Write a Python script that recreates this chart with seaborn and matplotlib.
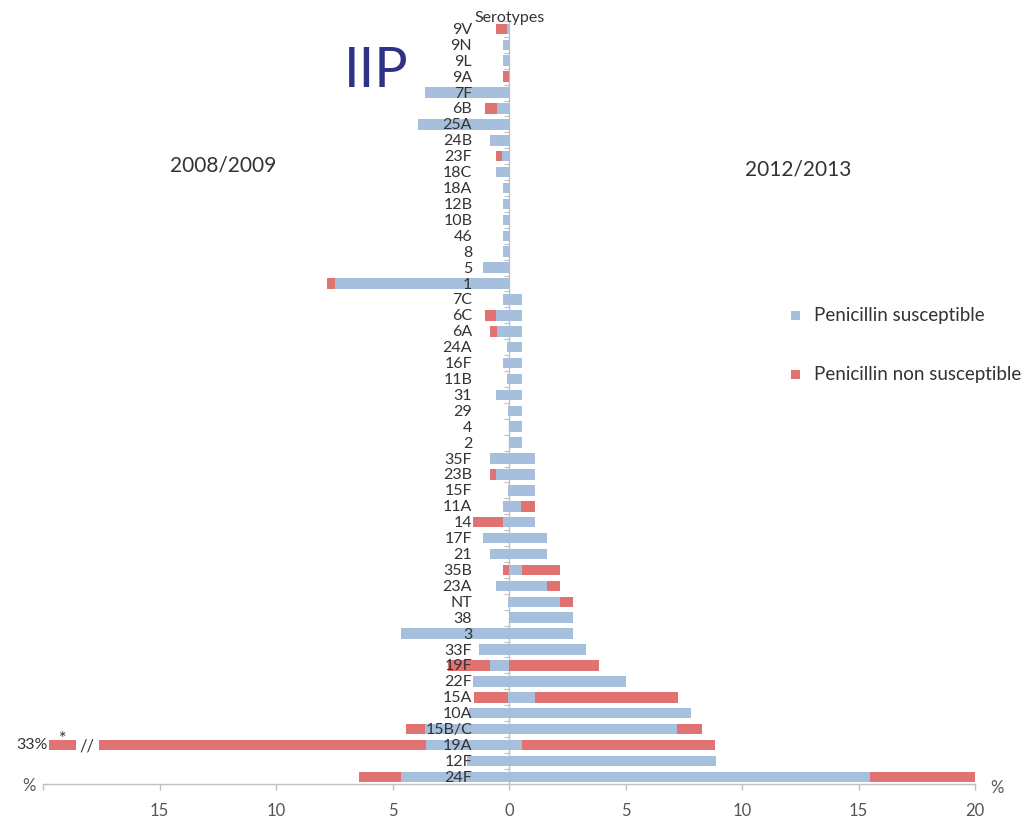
import matplotlib
matplotlib.use("Agg")
import matplotlib.pyplot as plt
from matplotlib.patches import Rectangle
import numpy as np
import pandas as pd
import seaborn as sns

# Serotypes, top to bottom
serotypes = ["9V", "9N", "9L", "9A", "7F", "6B", "25A", "24B", "23F", "18C", "18A",
             "12B", "10B", "46", "8", "5", "1", "7C", "6C", "6A", "24A", "16F", "11B",
             "31", "29", "4", "2", "35F", "23B", "15F", "11A", "14", "17F", "21", "35B",
             "23A", "NT", "38", "3", "33F", "19F", "22F", "15A", "10A", "15B/C", "19A",
             "12F", "24F"]

# 2008/2009 (% of isolates)
susc_0809 = [0.1, 0.25, 0.25, 0.0, 3.6, 0.5, 3.9, 0.8, 0.3, 0.55, 0.25,
             0.25, 0.25, 0.25, 0.25, 1.1, 7.45, 0.25, 0.55, 0.5, 0.1, 0.25, 0.1,
             0.55, 0.05, 0.0, 0.0, 0.8, 0.55, 0.05, 0.25, 0.25, 1.1, 0.8, 0.0,
             0.55, 0.05, 0.0, 4.65, 1.3, 0.8, 1.55, 0.05, 1.7, 3.6, 3.55,
             1.8, 4.65]
nonsusc_0809 = [0.45, 0.0, 0.0, 0.25, 0.0, 0.55, 0.0, 0.0, 0.25, 0.0, 0.0,
                0.0, 0.0, 0.0, 0.0, 0.0, 0.35, 0.0, 0.5, 0.3, 0.0, 0.0, 0.0,
                0.0, 0.0, 0.0, 0.0, 0.0, 0.25, 0.0, 0.0, 1.3, 0.0, 0.0, 0.25,
                0.0, 0.0, 0.0, 0.0, 0.0, 1.8, 0.0, 1.45, 0.0, 0.8, 29.45,
                0.0, 1.8]

# 2012/2013 (% of isolates)
susc_1213 = [0.0] * 17 + [0.55, 0.55, 0.55, 0.55, 0.55, 0.55,
                          0.55, 0.55, 0.55, 0.55, 1.1, 1.1, 1.1, 0.5, 1.1, 1.65, 1.65, 0.55,
                          1.65, 2.2, 2.75, 2.75, 3.3, 0.0, 5.0, 1.1, 7.8, 7.2, 0.55,
                          8.9, 15.5]
nonsusc_1213 = [0.0] * 17 + [0.0, 0.0, 0.0, 0.0, 0.0, 0.0,
                             0.0, 0.0, 0.0, 0.0, 0.0, 0.0, 0.0, 0.6, 0.0, 0.0, 0.0, 1.65,
                             0.55, 0.55, 0.0, 0.0, 0.0, 3.85, 0.0, 6.15, 0.0, 1.1, 8.3,
                             0.0, 4.5]

xtick_values = [-20, -15, -10, -5, 0, 5, 10, 15, 20]
xtick_labels = ["", "15", "10", "5", "0", "5", "10", "15", "20"]

BLUE = "#a6bfdc"
RED = "#e07272"
NAVY = "#2f3187"
TEXT = "#333333"
AXIS = "#c0c0c0"

# bars longer than this are drawn with a break
BREAK_AT = 17.6

df = pd.DataFrame({
    "serotype": serotypes,
    "s08": susc_0809, "ns08": nonsusc_0809,
    "s12": susc_1213, "ns12": nonsusc_1213,
})
df["tot08"] = df["s08"] + df["ns08"]
df["tot12"] = df["s12"] + df["ns12"]
df["tot08_shown"] = df["tot08"].clip(upper=BREAK_AT)

sns.set_theme(style="white")
plt.rcParams["font.family"] = ["Lato", "DejaVu Sans"]

W, H = 1028, 829
fig = plt.figure(figsize=(W / 100, H / 100), dpi=100)
fig.patch.set_facecolor("white")
ax = fig.add_axes([43 / W, (H - 785) / H, 932 / W, (785 - 14) / H])

bar_kw = dict(y="serotype", order=serotypes, orient="h", width=0.66,
              saturation=1, errorbar=None, ax=ax, linewidth=0)
# left side: 2008/2009 (drawn leftwards)
sns.barplot(data=df.assign(v=-df["tot08_shown"]), x="v", color=RED, **bar_kw)
sns.barplot(data=df.assign(v=-df["s08"]), x="v", color=BLUE, **bar_kw)
# right side: 2012/2013
sns.barplot(data=df.assign(v=df["tot12"]), x="v", color=RED, **bar_kw)
sns.barplot(data=df.assign(v=df["s12"]), x="v", color=BLUE, **bar_kw)

n = len(serotypes)
ax.set_xlim(-20, 20)
ax.set_ylim(n - 0.55, -1.0)
ax.set_xlabel("")
ax.set_ylabel("")
ax.set_yticks([])

# broken bar: short stub beyond the break for values past BREAK_AT
for i, row in df.iterrows():
    if row["tot08"] > BREAK_AT:
        ax.barh(i, -1.15, left=-(BREAK_AT + 1.0), height=0.66, color=RED, linewidth=0)
        ax.text(-(BREAK_AT + 0.5), i, "//", ha="center", va="center",
                fontsize=12, color=TEXT)
        ax.text(-(BREAK_AT + 1.55), i - 0.45, "*", ha="center", va="center",
                fontsize=13, color=TEXT)
        ax.annotate(f"{row['tot08']:.0f}%", xy=(-(BREAK_AT + 2.15), i),
                    xytext=(-1, 1), textcoords="offset points",
                    ha="right", va="center", fontsize=11.5, color=TEXT,
                    annotation_clip=False)

# central axis with small ticks between categories
ax.vlines(0, n - 0.55, -0.5, color=AXIS, linewidth=1.0, zorder=0.5)
for k in range(n + 1):
    ax.hlines(k - 0.5, -0.22, 0, color=AXIS, linewidth=0.8)

# serotype labels next to the central axis
for i, lab in enumerate(serotypes):
    ax.annotate(lab, xy=(0, i), xytext=(-26.5, 0), textcoords="offset points",
                ha="right", va="center", fontsize=11.5, color=TEXT)

# bottom axis
for side in ["top", "right", "left"]:
    ax.spines[side].set_visible(False)
ax.spines["bottom"].set_color(AXIS)
ax.spines["bottom"].set_linewidth(1.0)
ax.set_xticks(xtick_values)
ax.set_xticklabels(xtick_labels)
ax.tick_params(axis="x", direction="out", length=4, color=AXIS, width=1,
               labelsize=12, labelcolor="#555555", pad=9, bottom=True)
ax.grid(False)


def fx(px):
    return px / W


def fy(py):
    return 1 - py / H


fig.text(fx(29), fy(786), "%", ha="center", va="center", fontsize=12, color="#555555")
fig.text(fx(997), fy(788), "%", ha="center", va="center", fontsize=12, color="#555555")

fig.text(fx(510), fy(22), "Serotypes", ha="center", va="baseline", fontsize=11.5, color=TEXT)
fig.text(fx(376), fy(87), "IIP", ha="center", va="baseline", fontsize=40,
         color=NAVY, fontweight="normal")
fig.text(fx(223), fy(172), "2008/2009", ha="center", va="baseline", fontsize=15, color=TEXT)
fig.text(fx(798), fy(175), "2012/2013", ha="center", va="baseline", fontsize=15, color=TEXT)

# legend
for (cy, col, lab) in [(316, BLUE, "Penicillin susceptible"),
                       (375, RED, "Penicillin non susceptible")]:
    fig.add_artist(Rectangle((fx(791), fy(cy + 5)), 9 / W, 9 / H,
                             transform=fig.transFigure, color=col, linewidth=0))
    fig.text(fx(814), fy(cy), lab, ha="left", va="center", fontsize=13.5, color=TEXT)

fig.savefig("out.png", dpi=100, facecolor="white")
